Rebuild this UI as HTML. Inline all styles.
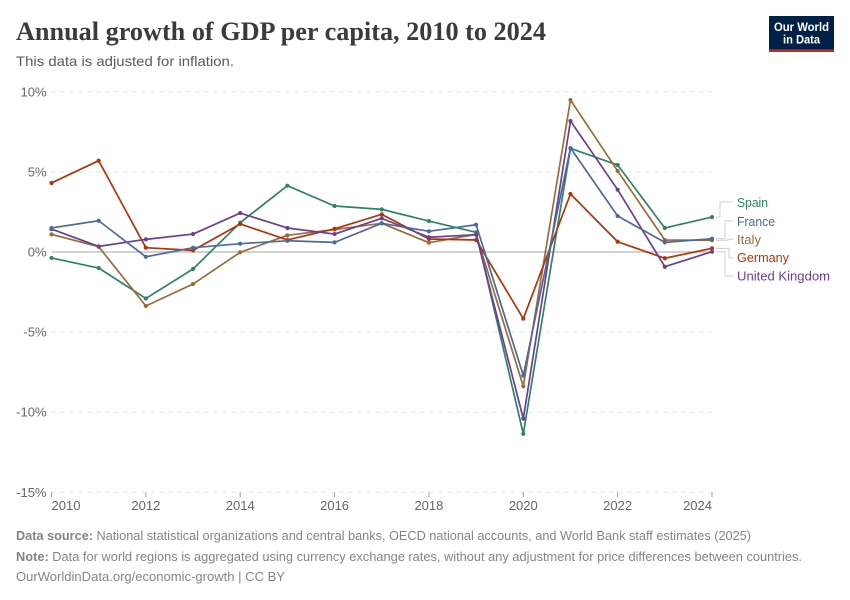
<!DOCTYPE html>
<html lang="en">
<head>
<meta charset="utf-8">
<title>Annual growth of GDP per capita, 2010 to 2024</title>
<style>
html,body{margin:0;padding:0;background:#fff;width:850px;height:600px;overflow:hidden}
svg{display:block}
text{font-family:"Liberation Sans",sans-serif}
.ylab,.xlab{font-size:13px;fill:#666}
.foot{font-size:12.5px;fill:#858585}
.leg{font-size:12.5px}
</style>
</head>
<body>
<svg id="chart" width="850" height="600" viewBox="0 0 850 600" xmlns="http://www.w3.org/2000/svg">
  <text x="16" y="40" textLength="530" lengthAdjust="spacingAndGlyphs" style="font-family:'Liberation Serif',serif;font-weight:700;font-size:26px;fill:#3b3b3b">Annual growth of GDP per capita, 2010 to 2024</text>
  <text x="16" y="66" textLength="218" lengthAdjust="spacingAndGlyphs" style="font-size:14px;fill:#5b5b5b">This data is adjusted for inflation.</text>

  <g>
    <rect x="769" y="16" width="65" height="36" fill="#002147"/>
    <rect x="769" y="49.3" width="65" height="2.7" fill="#ce261e"/>
    <text x="801.5" y="31" text-anchor="middle" textLength="55" lengthAdjust="spacingAndGlyphs" style="font-size:12px;font-weight:700;fill:#fff">Our World</text>
    <text x="801.5" y="43.5" text-anchor="middle" textLength="37" lengthAdjust="spacingAndGlyphs" style="font-size:12px;font-weight:700;fill:#fff">in Data</text>
  </g>

  <g id="grid"></g>
  <g id="xaxis"></g>
  <g id="connectors"></g>
  <g id="series"></g>

  <g>
    <text class="leg" x="737" y="207" fill="#2c8465" textLength="31" lengthAdjust="spacingAndGlyphs">Spain</text>
    <text class="leg" x="737" y="226" fill="#4c6a9c" textLength="38" lengthAdjust="spacingAndGlyphs">France</text>
    <text class="leg" x="737" y="244" fill="#996d39" textLength="24" lengthAdjust="spacingAndGlyphs">Italy</text>
    <text class="leg" x="737" y="262" fill="#b13507" textLength="52" lengthAdjust="spacingAndGlyphs">Germany</text>
    <text class="leg" x="737" y="280.500" fill="#6d3e91" textLength="93" lengthAdjust="spacingAndGlyphs">United Kingdom</text>
  </g>

  <text class="foot" x="16" y="540" textLength="735" lengthAdjust="spacingAndGlyphs"><tspan font-weight="700">Data source:</tspan> National statistical organizations and central banks, OECD national accounts, and World Bank staff estimates (2025)</text>
  <text class="foot" x="16" y="561" textLength="786" lengthAdjust="spacingAndGlyphs"><tspan font-weight="700">Note:</tspan> Data for world regions is aggregated using currency exchange rates, without any adjustment for price differences between countries.</text>
  <text class="foot" x="16" y="581" textLength="269" lengthAdjust="spacingAndGlyphs">OurWorldinData.org/economic-growth | CC BY</text>
</svg>
<script>
var years = [2010,2011,2012,2013,2014,2015,2016,2017,2018,2019,2020,2021,2022,2023,2024];
var xTickYears = [2010,2012,2014,2016,2018,2020,2022,2024];
var yTickValues = [-15,-10,-5,0,5,10];
var spain = [-0.37,-1.0,-2.9,-1.06,1.83,4.14,2.87,2.66,1.93,1.23,-11.35,6.47,5.43,1.5,2.18];
var france = [1.5,1.95,-0.3,0.27,0.52,0.7,0.6,1.79,1.29,1.7,-7.72,6.49,2.25,0.6,0.83];
var italy = [1.1,0.33,-3.37,-2.0,-0.02,1.04,1.4,1.79,0.58,1.1,-8.38,9.49,5.06,0.75,0.73];
var germany = [4.31,5.7,0.27,0.1,1.75,0.75,1.45,2.35,0.81,0.75,-4.16,3.62,0.64,-0.39,0.23];
var uk = [1.43,0.35,0.79,1.12,2.43,1.5,1.12,2.1,0.92,1.08,-10.4,8.18,3.89,-0.92,0.02];

var NS = 'http://www.w3.org/2000/svg';
function xScale(yr){ return 51.5 + (yr - 2010) * (712 - 51.5) / 14; }
function yScale(v){ return 252 - v * 16.02; }
function make(tag, attrs, parent){
  var el = document.createElementNS(NS, tag);
  for (var k in attrs) el.setAttribute(k, attrs[k]);
  parent.appendChild(el);
  return el;
}
var grid = document.getElementById('grid');
var xaxis = document.getElementById('xaxis');
var seriesGroup = document.getElementById('series');
var connectors = document.getElementById('connectors');

yTickValues.forEach(function(v){
  var y = yScale(v);
  var line = make('line', {x1:51.5, x2:712, y1:y, y2:y, stroke: v === 0 ? '#c4c4c4' : '#e3e3e3', 'stroke-width': v === 0 ? 1.5 : 1, 'stroke-dasharray': v === 0 ? 'none' : '4 5'}, grid);
  
  
  var t = make('text', {x:46.5, y:y + 4.5, 'text-anchor':'end', 'class':'ylab'}, grid);
  
  
  t.textContent = v + '%';
});

xTickYears.forEach(function(yr, i){
  var x = xScale(yr);
  var tick = make('line', {x1:x, x2:x, y1:yScale(-15), y2:yScale(-15) + 5, stroke:'#999', 'stroke-width':1}, xaxis);
  
  
  var anchor = i === 0 ? 'start' : (i === xTickYears.length - 1 ? 'end' : 'middle');
  var t = make('text', {x:x, y:510, 'text-anchor':anchor, 'class':'xlab'}, xaxis);
  
  
  t.textContent = yr;
});

function drawConnector(values, elbowX, labelY){
  var last = yScale(values[values.length - 1]);
  var p = make('path', {d:'M716 ' + last + 'H' + elbowX + 'V' + labelY + 'H733', fill:'none', stroke:'#cfcfcf', 'stroke-width':1}, connectors);
  
  
}
drawConnector(spain, 720, 202);
drawConnector(france, 725, 220.7);
drawConnector(italy, 728, 239.3);
drawConnector(germany, 729, 257.7);
drawConnector(uk, 725, 276);

function drawSeries(values, color){
  var pts = values.map(function(v, i){ return xScale(years[i]) + ',' + yScale(v); }).join(' ');
  var line = make('polyline', {points:pts, fill:'none', stroke:color, 'stroke-width':1.7, 'stroke-linejoin':'round'}, seriesGroup);
  
  
  values.forEach(function(v, i){
    var c = make('circle', {cx:xScale(years[i]), cy:yScale(v), r:2.1, fill:color}, seriesGroup);
    
    
  });
}
drawSeries(spain, '#2c8465');
drawSeries(italy, '#996d39');
drawSeries(germany, '#b13507');
drawSeries(uk, '#6d3e91');
drawSeries(france, '#4c6a9c');
</script>
</body>
</html>
